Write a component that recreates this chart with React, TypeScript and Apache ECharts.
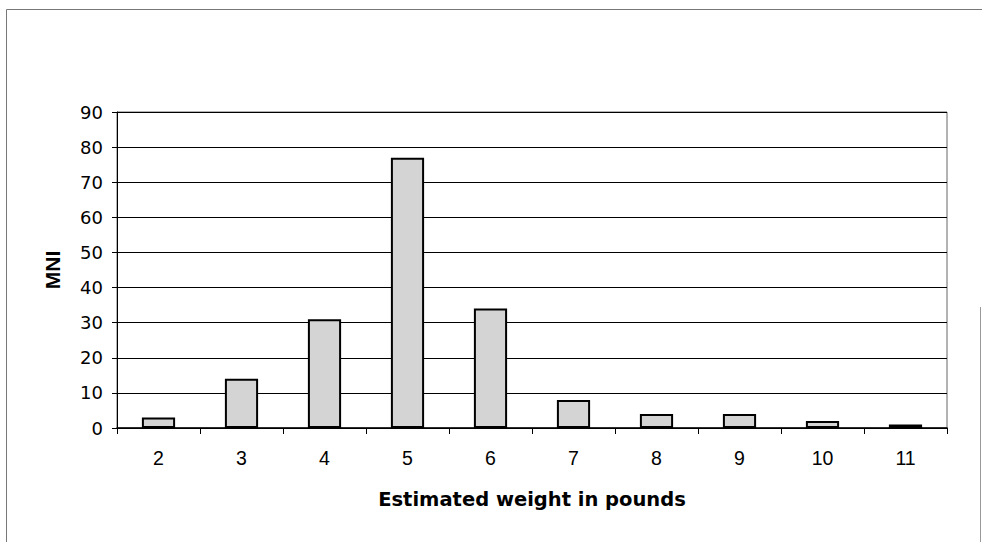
import React, { useEffect, useRef } from "react";
import * as echarts from "echarts";

const categories = ["2", "3", "4", "5", "6", "7", "8", "9", "10", "11"];
const mniValues = [3, 14, 31, 77, 34, 8, 4, 4, 2, 1];
const yTicks = [0, 10, 20, 30, 40, 50, 60, 70, 80, 90];

export default function App() {
  const ref = useRef<HTMLDivElement>(null);
  useEffect(() => {
    if (!ref.current) return;
    const chart = echarts.init(ref.current, undefined, { renderer: "svg" });
    chart.setOption({
      animation: false,
      backgroundColor: "#ffffff",
      textStyle: { fontFamily: "Liberation Sans, Arial, sans-serif" },
      grid: {
        left: 117,
        right: 35,
        top: 112,
        bottom: 114,
        show: true,
        borderColor: "#666",
        borderWidth: 1,
      },
      graphic: [
        {
          type: "polyline",
          shape: { points: [[6.5, 542], [6.5, 9.5], [982, 9.5]] },
          style: { fill: "none", stroke: "#777", lineWidth: 1 },
          silent: true,
        },
        {
          type: "line",
          shape: { x1: 980.5, y1: 307, x2: 980.5, y2: 542 },
          style: { stroke: "#999", lineWidth: 1 },
          silent: true,
        },
      ],
      xAxis: {
        type: "category",
        data: categories,
        name: "Estimated weight in pounds",
        nameLocation: "middle",
        nameGap: 61,
        nameTextStyle: {
          fontSize: 19.5,
          fontWeight: "bold",
          color: "#000",
          fontFamily: "DejaVu Sans, sans-serif",
        },
        axisLine: { show: true, lineStyle: { color: "#000", width: 1.5 } },
        axisTick: { show: true, length: 6, lineStyle: { color: "#000" } },
        axisLabel: { fontSize: 19.5, color: "#000", margin: 20 },
      },
      yAxis: {
        type: "value",
        min: 0,
        max: 90,
        interval: 10,
        name: "MNI",
        nameLocation: "middle",
        nameGap: 54,
        nameTextStyle: { fontSize: 21, fontWeight: "bold", color: "#000" },
        axisLine: { show: true, lineStyle: { color: "#000", width: 1 } },
        axisTick: { show: true, length: 5, lineStyle: { color: "#000" } },
        axisLabel: {
          fontSize: 18,
          color: "#000",
          margin: 14,
          fontFamily: "DejaVu Sans, sans-serif",
          formatter: (v: number) => (yTicks.includes(v) ? String(v) : ""),
        },
        splitLine: { show: true, lineStyle: { color: "#000", width: 1.2 } },
      },
      series: [
        {
          type: "bar",
          data: mniValues,
          barWidth: "40%",
          itemStyle: { color: "#d4d4d4", borderColor: "#000", borderWidth: 2 },
        },
      ],
    });
    return () => chart.dispose();
  }, []);
  return (
    <div
      ref={ref}
      style={{ position: "fixed", left: 0, top: 0, width: 982, height: 542 }}
    />
  );
}
